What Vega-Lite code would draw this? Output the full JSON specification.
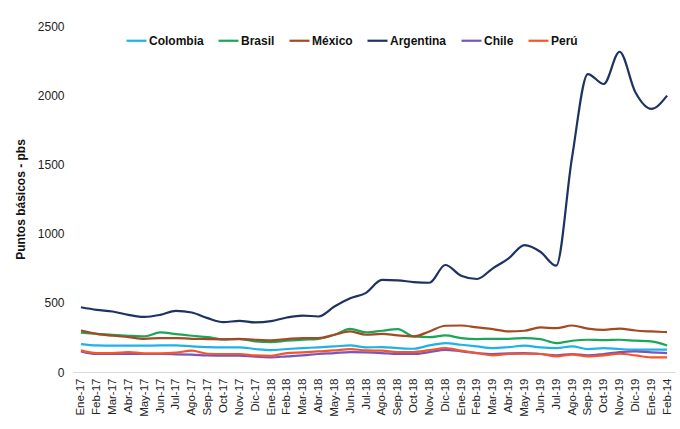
{
  "$schema": "https://vega.github.io/schema/vega-lite/v6.json",
  "width": 680,
  "height": 429,
  "autosize": {"type": "fit", "contains": "padding"},
  "padding": {"left": 14, "top": 20, "right": 5, "bottom": 12},
  "background": "white",
  "config": {
    "font": "Liberation Sans",
    "view": {"stroke": null},
    "axis": {"grid": false, "ticks": false, "labelColor": "#222222", "titleColor": "#111111"}
  },
  "data": {
    "values": [
      {"i":0,"Colombia":202,"Brasil":285,"México":300,"Argentina":468,"Chile":149,"Perú":156},
      {"i":1,"Colombia":192,"Brasil":276,"México":276,"Argentina":449,"Chile":130,"Perú":137},
      {"i":2,"Colombia":190,"Brasil":269,"México":262,"Argentina":437,"Chile":130,"Perú":137},
      {"i":3,"Colombia":190,"Brasil":262,"México":252,"Argentina":413,"Chile":130,"Perú":144},
      {"i":4,"Colombia":190,"Brasil":257,"México":240,"Argentina":398,"Chile":130,"Perú":135},
      {"i":5,"Colombia":192,"Brasil":286,"México":245,"Argentina":413,"Chile":130,"Perú":135},
      {"i":6,"Colombia":192,"Brasil":274,"México":245,"Argentina":442,"Chile":128,"Perú":140},
      {"i":7,"Colombia":185,"Brasil":262,"México":240,"Argentina":430,"Chile":125,"Perú":154},
      {"i":8,"Colombia":180,"Brasil":252,"México":238,"Argentina":389,"Chile":120,"Perú":132},
      {"i":9,"Colombia":178,"Brasil":236,"México":236,"Argentina":360,"Chile":118,"Perú":130},
      {"i":10,"Colombia":178,"Brasil":238,"México":240,"Argentina":370,"Chile":118,"Perú":130},
      {"i":11,"Colombia":166,"Brasil":221,"México":233,"Argentina":358,"Chile":110,"Perú":120},
      {"i":12,"Colombia":158,"Brasil":216,"México":229,"Argentina":367,"Chile":106,"Perú":117},
      {"i":13,"Colombia":166,"Brasil":226,"México":238,"Argentina":394,"Chile":113,"Perú":137},
      {"i":14,"Colombia":173,"Brasil":233,"México":245,"Argentina":408,"Chile":120,"Perú":142},
      {"i":15,"Colombia":178,"Brasil":240,"México":245,"Argentina":401,"Chile":130,"Perú":149},
      {"i":16,"Colombia":185,"Brasil":269,"México":269,"Argentina":473,"Chile":137,"Perú":156},
      {"i":17,"Colombia":192,"Brasil":312,"México":293,"Argentina":533,"Chile":144,"Perú":166},
      {"i":18,"Colombia":178,"Brasil":286,"México":269,"Argentina":572,"Chile":142,"Perú":156},
      {"i":19,"Colombia":180,"Brasil":298,"México":276,"Argentina":665,"Chile":137,"Perú":154},
      {"i":20,"Colombia":173,"Brasil":310,"México":264,"Argentina":662,"Chile":130,"Perú":144},
      {"i":21,"Colombia":168,"Brasil":257,"México":257,"Argentina":650,"Chile":130,"Perú":144},
      {"i":22,"Colombia":192,"Brasil":252,"México":293,"Argentina":645,"Chile":144,"Perú":158},
      {"i":23,"Colombia":209,"Brasil":264,"México":334,"Argentina":773,"Chile":160,"Perú":173},
      {"i":24,"Colombia":197,"Brasil":245,"México":336,"Argentina":696,"Chile":149,"Perú":154},
      {"i":25,"Colombia":185,"Brasil":238,"México":322,"Argentina":672,"Chile":137,"Perú":137},
      {"i":26,"Colombia":173,"Brasil":240,"México":310,"Argentina":749,"Chile":130,"Perú":120},
      {"i":27,"Colombia":180,"Brasil":240,"México":293,"Argentina":821,"Chile":135,"Perú":130},
      {"i":28,"Colombia":190,"Brasil":245,"México":298,"Argentina":917,"Chile":137,"Perú":132},
      {"i":29,"Colombia":178,"Brasil":238,"México":322,"Argentina":869,"Chile":130,"Perú":130},
      {"i":30,"Colombia":173,"Brasil":209,"México":317,"Argentina":768,"Chile":120,"Perú":113},
      {"i":31,"Colombia":185,"Brasil":226,"México":336,"Argentina":1550,"Chile":130,"Perú":125},
      {"i":32,"Colombia":166,"Brasil":233,"México":314,"Argentina":2153,"Chile":120,"Perú":113},
      {"i":33,"Colombia":173,"Brasil":230,"México":305,"Argentina":2081,"Chile":130,"Perú":120},
      {"i":34,"Colombia":166,"Brasil":233,"México":314,"Argentina":2314,"Chile":144,"Perú":132},
      {"i":35,"Colombia":161,"Brasil":226,"México":300,"Argentina":2021,"Chile":149,"Perú":120},
      {"i":36,"Colombia":161,"Brasil":221,"México":293,"Argentina":1901,"Chile":142,"Perú":106},
      {"i":37,"Colombia":161,"Brasil":192,"México":288,"Argentina":1997,"Chile":137,"Perú":106}
    ]
  },
  "transform": [
    {"fold": ["Colombia", "Brasil", "México", "Argentina", "Chile", "Perú"], "as": ["pais", "pbs"]}
  ],
  "mark": {"type": "line", "interpolate": "monotone", "strokeWidth": 2.2},
  "encoding": {
    "x": {
      "field": "i",
      "type": "quantitative",
      "scale": {"domain": [-0.5, 37.5], "nice": false, "zero": false},
      "axis": {
        "title": null,
        "values": [0,1,2,3,4,5,6,7,8,9,10,11,12,13,14,15,16,17,18,19,20,21,22,23,24,25,26,27,28,29,30,31,32,33,34,35,36,37],
        "labelExpr": "['Ene-17','Feb-17','Mar-17','Abr-17','May-17','Jun-17','Jul-17','Ago-17','Sep-17','Oct-17','Nov-17','Dic-17','Ene-18','Feb-18','Mar-18','Abr-18','May-18','Jun-18','Jul-18','Ago-18','Sep-18','Oct-18','Nov-18','Dic-18','Ene-19','Feb-19','Mar-19','Abr-19','May-19','Jun-19','Jul-19','Ago-19','Sep-19','Oct-19','Nov-19','Dic-19','Ene-19','Feb-14'][datum.value]",
        "labelAngle": -90,
        "labelAlign": "right",
        "labelBaseline": "middle",
        "labelFontSize": 11.5,
        "labelPadding": 6,
        "labelOverlap": false,
        "labelFlush": false,
        "domainColor": "#D9D9D9",
        "domainWidth": 1
      }
    },
    "y": {
      "field": "pbs",
      "type": "quantitative",
      "scale": {"domain": [0, 2500], "nice": false},
      "axis": {
        "title": "Puntos básicos - pbs",
        "titleFontSize": 12,
        "titleFontWeight": "bold",
        "titlePadding": 10,
        "values": [0, 500, 1000, 1500, 2000, 2500],
        "format": "d",
        "labelFontSize": 12,
        "labelPadding": 9,
        "domain": false
      }
    },
    "color": {
      "field": "pais",
      "type": "nominal",
      "scale": {
        "domain": ["Colombia", "Brasil", "México", "Argentina", "Chile", "Perú"],
        "range": ["#1DB2E8", "#1AA657", "#A34A22", "#1E3263", "#7755C0", "#F5552A"]
      },
      "legend": {
        "title": null,
        "orient": "none",
        "legendX": 52,
        "legendY": 3,
        "direction": "horizontal",
        "columns": 6,
        "symbolType": "stroke",
        "symbolSize": 400,
        "symbolStrokeWidth": 2.2,
        "labelFontSize": 12,
        "labelFontWeight": "bold",
        "labelColor": "#111111",
        "labelOffset": 1,
        "columnPadding": 10
      }
    }
  }
}
